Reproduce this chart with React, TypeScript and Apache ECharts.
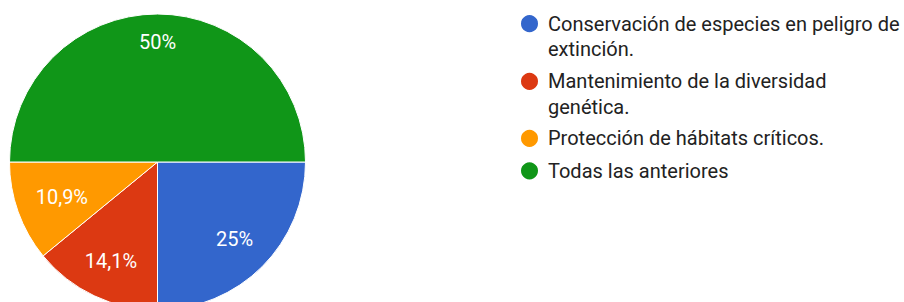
import React, { useEffect, useRef } from "react";
import * as echarts from "echarts";

const categories = [
  "Conservación de especies en peligro de extinción.",
  "Mantenimiento de la diversidad genética.",
  "Protección de hábitats críticos.",
  "Todas las anteriores",
];
const legendText = [
  "Conservación de especies en peligro de\nextinción.",
  "Mantenimiento de la diversidad\ngenética.",
  "Protección de hábitats críticos.",
  "Todas las anteriores",
];
const counts = [32, 18, 14, 64];
const colors = ["#3366cc", "#dc3912", "#ff9900", "#109618"];
const labelOffsets = [
  [0, 0],
  [0, 0],
  [7, -2],
  [0, -11],
];
// vertical centre of each legend marker
const legendMarkerY = [23.7, 81.3, 138.3, 170.8];

const FONT = "Roboto, Arial, sans-serif";
const LINE_H = 25.5;

export default function App() {
  const ref = useRef<HTMLDivElement>(null);
  useEffect(() => {
    if (!ref.current) return;
    const chart = echarts.init(ref.current, null, { renderer: "svg" });
    const center = [157.5, 162];
    const fmt = (p: any) => `${String(p.percent).replace(".", ",")}%`;
    const legends = categories.map((c, i) => {
      const multi = legendText[i].includes("\n");
      const half = multi ? (LINE_H * 3) / 2 : LINE_H / 2;
      return {
        orient: "vertical",
        left: 519,
        top: legendMarkerY[i] - half,
        padding: 0,
        itemGap: 0,
        itemWidth: 27,
        itemHeight: 19,
        icon: "circle",
        selectedMode: false,
        data: [c],
        formatter: (name: string) => {
          const t = legendText[categories.indexOf(name)];
          return t.includes("\n") ? "\n" + t : t;
        },
        textStyle: {
          fontFamily: FONT,
          fontSize: 20,
          lineHeight: LINE_H,
          color: "#222",
        },
      };
    });
    chart.setOption({
      animation: false,
      color: colors,
      legend: legends,
      series: [
        {
          type: "pie",
          center,
          radius: [0, 148],
          startAngle: 0,
          clockwise: true,
          percentPrecision: 1,
          avoidLabelOverlap: false,
          label: { show: false },
          labelLine: { show: false },
          itemStyle: { borderColor: "#fff", borderWidth: 1 },
          emphasis: { disabled: true },
          data: categories.map((c, i) => ({ name: c, value: counts[i] })),
        },
        {
          type: "pie",
          center,
          radius: [0, 212],
          startAngle: 0,
          clockwise: true,
          percentPrecision: 1,
          silent: true,
          avoidLabelOverlap: false,
          itemStyle: { color: "rgba(0,0,0,0)", borderWidth: 0 },
          labelLine: { show: false },
          emphasis: { disabled: true },
          label: {
            show: true,
            position: "inside",
            color: "#fff",
            fontFamily: FONT,
            fontSize: 20,
            formatter: fmt,
          },
          data: categories.map((c, i) => ({
            name: c,
            value: counts[i],
            label: { offset: labelOffsets[i] },
          })),
        },
      ],
    });
    return () => chart.dispose();
  }, []);
  return (
    <div
      ref={ref}
      style={{ position: "fixed", left: 0, top: 0, width: 904, height: 302, background: "#fff" }}
    />
  );
}
